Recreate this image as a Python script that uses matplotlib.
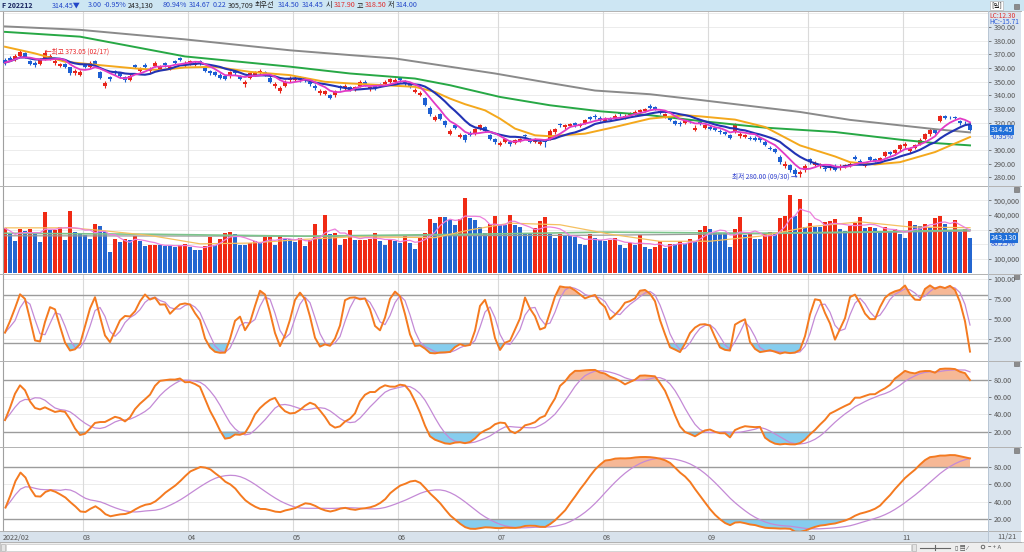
import numpy as np
import pandas as pd
import matplotlib
matplotlib.use("Agg")
import matplotlib.pyplot as plt
import matplotlib.transforms as mtrans
from matplotlib.patches import Rectangle, Circle
from matplotlib.lines import Line2D

plt.rcParams['font.family'] = ['Noto Sans CJK KR', 'DejaVu Sans']

# ---- daily candles (KOSPI200 futures F 202212) ----
opens = [366, 367.5, 366.5, 369, 371, 365, 364, 363, 367, 367,
         363.5, 361.5, 363, 360.5, 356, 355, 363, 361, 365, 357,
         347, 353.5, 357.5, 356, 353.5, 351.5, 362, 358, 362.5, 357.5,
         361.5, 359.5, 363.5, 359.5, 365, 367, 362, 363, 362.5, 365,
         360, 357.5, 357, 355, 354, 354, 357.5, 354, 348, 353,
         355, 356.5, 357, 353, 346.5, 343, 347, 351, 351.5, 353,
         352.5, 350, 347, 341.5, 341, 340, 340, 346.5, 345, 346,
         344, 347, 350, 344.5, 346.5, 348, 348, 350, 349.5, 352.5,
         350, 348, 342.5, 340.5, 338, 331, 322, 326, 321, 312,
         318, 309.5, 311, 312.5, 312, 315.5, 316.5, 311, 308, 303.5,
         306, 306, 305, 306.5, 311, 308, 306, 304.5, 307, 308,
         313, 319, 316.5, 317.5, 319.5, 317.5, 320, 324, 325, 323.5,
         321.5, 323, 323.5, 327, 323.5, 325.5, 326.5, 327.5, 328.5, 332.5,
         331.5, 328.5, 324.5, 324, 321, 320, 320, 322, 314.5, 320.5,
         316, 317, 316, 313.6, 313, 311, 313.5, 310, 309.5, 308.6,
         309, 308.5, 306, 301.6, 300.5, 295, 288, 289, 285.5, 282,
         285, 293, 289, 288, 286.6, 286.5, 288.5, 286.5, 287.5, 288.5,
         295, 291.6, 288.5, 294.5, 293, 292, 295.5, 298.5, 297.5, 300.5,
         302.5, 299, 301.5, 304.5, 308, 311.5, 314.5, 321, 325, 324.4,
         324.2, 321, 320, 317.9]
highs = [367, 368.5, 370, 373, 372, 366, 365, 367, 373.05, 370.5,
         366.5, 364, 364, 361, 359, 358.5, 364, 365.5, 366, 358,
         350.5, 354.5, 358.5, 357, 354.5, 355.5, 363, 361, 363.5, 360.5,
         365, 362.5, 364.5, 362.5, 366, 368, 365, 366, 365, 366,
         361, 358.5, 358, 356, 355, 358, 358.5, 355, 351.5, 357,
         358, 359.5, 358, 354, 349.5, 346.5, 351, 354.5, 354, 354,
         353.5, 351, 348, 344.5, 344, 341, 344, 347.5, 348, 347,
         347, 351, 351, 347, 347.5, 349, 351, 353, 352.5, 353.5,
         351, 349, 345.5, 343.5, 339, 332, 325.5, 327, 322, 315.5,
         319, 312.5, 312, 313.5, 316, 319, 317.5, 312, 309, 306.5,
         309, 307, 308, 309, 312, 309, 309, 307, 308, 315,
         316, 320, 319, 320, 320.5, 320, 323, 325, 326, 324.5,
         324, 324, 326, 328, 326, 328, 329, 330, 331, 333.5,
         332.5, 329.5, 327, 325, 322, 321, 323, 323, 318, 321.5,
         319, 318, 317, 315, 314, 312, 320, 313, 312, 310,
         310, 309.5, 307, 303, 301.5, 296, 292, 290, 286.5, 285,
         289.5, 294, 291.5, 290.5, 288, 289, 289.5, 289.5, 290, 291,
         296, 293, 291, 295.5, 294, 295, 299.5, 299.5, 300.5, 304,
         305.5, 302, 304.5, 308.5, 312.5, 316, 315.5, 325.5, 325.8, 325,
         325, 322, 321, 318.5]
lows = [362.5, 365, 365.5, 368, 367, 362, 360.5, 362, 366, 366,
        362.5, 360.5, 360, 355, 355, 354, 360, 360, 362, 352,
        345, 350.5, 355, 353, 350, 350.5, 360, 357, 360, 356.5,
        360.5, 358.5, 361, 358.5, 363, 365, 361, 362, 361.5, 362,
        357, 355, 354, 352, 351, 353, 355, 351, 346, 352,
        354, 355.5, 354, 349, 345.5, 341.5, 346, 350, 350.5, 350,
        350, 347, 344, 340, 340, 337, 339, 344, 344, 343,
        343, 346, 347, 343.5, 344, 346, 347, 349, 348.5, 350,
        347, 345, 341.5, 339.5, 332, 325, 321, 322, 317, 311,
        315, 308.5, 306, 310, 311, 314.5, 313, 307, 304.5, 302.5,
        305, 303, 304, 305.5, 309, 305, 305, 303.5, 302, 307,
        312, 317, 315.5, 316.5, 317, 316.5, 319, 322, 323, 321,
        320.5, 321, 322.5, 325, 322.5, 324.5, 325.5, 326.5, 327.5, 330,
        329, 326, 323.5, 321, 318, 317.5, 319, 320, 313.5, 318,
        315, 314.5, 313.5, 312, 311, 308, 312.5, 309, 308.5, 307,
        306.5, 306, 302.5, 300, 297.5, 290, 287, 284, 281, 280.0,
        284, 290, 288, 287, 284.5, 285.5, 284.5, 285.5, 286.5, 287.5,
        292.5, 290, 287.5, 292, 291, 291, 294.5, 296, 296.5, 299.5,
        301.5, 298, 300.5, 303.5, 307, 310.5, 312, 320.5, 322.5, 323,
        322.5, 318.5, 318.5, 314.0]
closes = [364, 366, 369, 372, 368, 363, 362, 366, 371, 369,
          365, 363, 361, 356, 358, 357, 361, 364, 363, 353,
          349, 352, 356, 354, 351, 354, 361, 360, 361, 359,
          364, 361, 362, 361, 364, 366, 364, 365, 364, 363,
          358, 356, 355, 353, 352, 357, 356, 352, 350, 356,
          357, 358, 355, 350, 348, 345, 350, 353, 353, 351,
          351, 348, 345, 343, 343, 338, 343, 345, 347, 344,
          346, 350, 348, 346, 345, 347, 350, 352, 351, 351,
          348, 346, 344, 342, 333, 326, 324, 323, 318, 314,
          316, 311, 307, 311, 315, 318, 314, 308, 306, 305,
          308, 304, 307, 308, 310, 306, 308, 306, 306, 314,
          315, 318, 318, 319, 318, 319, 322, 323, 324, 322,
          323, 322, 325, 326, 325, 327, 328, 329, 330, 331,
          330, 327, 326, 322, 319, 319, 322, 321, 316, 319,
          318, 315.5, 314.5, 313, 312, 309, 319, 312, 311, 308,
          307.5, 307, 303.5, 301, 298.5, 291, 289.5, 285, 282.5, 284,
          288.5, 291, 290.5, 289.5, 286, 288, 285.5, 288.5, 289, 290,
          293.5, 291, 290, 292.8, 292, 294, 298.4, 297, 299.6, 303.3,
          304.5, 301, 303.5, 307.5, 311.4, 314.8, 312.6, 325, 323.5, 324,
          323.5, 319.5, 319.5, 314.45]
# volume in thousand contracts
volumes_k = [308, 274, 223, 303, 290, 303, 278, 217, 422, 296,
             296, 319, 228, 429, 285, 278, 262, 233, 335, 326,
             285, 148, 239, 217, 233, 228, 255, 221, 187, 194,
             198, 196, 189, 187, 180, 198, 205, 178, 160, 158,
             189, 251, 198, 239, 274, 285, 269, 198, 196, 212,
             221, 212, 251, 251, 198, 258, 239, 235, 217, 244,
             189, 226, 335, 239, 399, 269, 278, 198, 239, 296,
             228, 230, 232, 239, 274, 221, 198, 233, 223, 210,
             258, 210, 166, 246, 280, 372, 347, 388, 383, 365,
             331, 369, 513, 376, 365, 319, 274, 337, 392, 331,
             329, 399, 331, 319, 269, 267, 312, 358, 383, 269,
             244, 269, 258, 255, 251, 205, 198, 267, 244, 228,
             221, 228, 246, 198, 176, 210, 194, 262, 182, 171,
             178, 221, 176, 205, 203, 221, 205, 235, 221, 296,
             326, 303, 280, 278, 276, 182, 301, 383, 262, 269,
             239, 237, 267, 285, 274, 376, 394, 536, 392, 506,
             315, 347, 319, 317, 349, 360, 369, 301, 292, 326,
             347, 383, 308, 315, 313, 285, 315, 285, 303, 267,
             246, 358, 331, 324, 337, 315, 376, 394, 337, 285,
             365, 285, 301, 243.13]

# long moving averages (they need history before the window)
ma20_idx = [0, 6, 12, 19, 26, 31, 36, 42, 49, 57, 64, 69, 76, 82, 86, 89, 92, 96, 99,
            102, 106, 109, 116, 122, 129, 136, 139, 146, 152, 159, 166, 169, 174, 179, 186, 193]
ma20_val = [375.6, 370.7, 364.6, 362.1, 359.7, 358.5, 360.4, 360.9, 357.2, 354.8, 349.9,
            348.7, 347.4, 346.2, 342.5, 337.6, 333.5, 329.0, 322.9, 315.6, 310.7, 310.0,
            311.9, 316.8, 322.9, 325.4, 324.6, 322.2, 316.8, 303.3, 295.2, 291.0, 289.3,
            291.0, 298.4, 309.4]
ma60_idx = [0, 15, 36, 57, 69, 82, 89, 99, 109, 119, 129, 139, 152, 166, 179, 186, 193]
ma60_val = [386.5, 383.0, 368.5, 361.0, 356.0, 352.3, 347.4, 338.8, 332.7, 328.3, 325.4,
            321.2, 316.3, 313.1, 307.5, 305.0, 303.3]
ma120_idx = [0, 15, 36, 57, 69, 78, 98, 109, 118, 129, 139, 159, 169, 179, 186, 193]
ma120_val = [390.5, 388.0, 381.0, 373.0, 369.5, 367.0, 356.0, 349.0, 343.5, 340.8, 336.6,
             327.8, 322.0, 318.0, 315.2, 312.8]
vma20_idx = [0, 13, 19, 29, 39, 49, 59, 69, 79, 86, 93, 101, 111, 121, 131, 141, 151, 161, 171, 181, 193]
vma20_val = [312, 312, 295, 260, 203, 208, 232, 250, 248, 245, 298, 344, 333, 269, 220, 221,
             255, 320, 353, 318, 313]
vma60_idx = [0, 30, 60, 101, 120, 150, 175, 193]
vma60_val = [275, 268, 255, 272, 283, 275, 285, 298]
vma120_idx = [0, 60, 120, 160, 193]
vma120_val = [258, 255, 262, 275, 290]

month_start = [0, 16, 37, 58, 79, 99, 120, 141, 161, 180]
month_labels = ['2022/02', '03', '04', '05', '06', '07', '08', '09', '10', '11']

RED, BLUE = '#e8261c', '#1d5fd3'
C_MA5, C_MA10, C_MA20, C_MA60, C_MA120 = '#e23ac6', '#2233b4', '#f4a81c', '#27a845', '#8a8a8a'
C_K, C_D = '#f47a20', '#c48ad6'
FS = 4.8     # small HTS font
TFS = 5.2    # axis labels

o = np.array(opens); h = np.array(highs); l = np.array(lows); c = np.array(closes)
v = np.array(volumes_k) * 1000
N = len(c)
x = np.arange(N)
cs, hs, ls = pd.Series(c), pd.Series(h), pd.Series(l)

W, H = 1024, 552
fig = plt.figure(figsize=(W / 100, H / 100), dpi=100)
fig.patch.set_facecolor('white')
rend = fig.canvas.get_renderer()

def pax(x0, y0, x1, y1):
    return fig.add_axes([x0 / W, 1 - y1 / H, (x1 - x0) / W, (y1 - y0) / H])

# background layer in pixel units
bg = fig.add_axes([0, 0, 1, 1])
bg.set_xlim(0, W); bg.set_ylim(H, 0); bg.axis('off')
bg.add_patch(Rectangle((0, 0), W, 10.5, fc='#cde6f3', ec='none'))
bg.add_patch(Rectangle((988, 10.5), 33, 531.5, fc='#dae4ee', ec='none'))
bg.add_patch(Rectangle((0, 531), 988, 11, fc='#d8e2ec', ec='none'))
bg.add_patch(Rectangle((0, 542), W, 10, fc='#eeeeee', ec='#bdbdbd', lw=0.6))
bg.add_patch(Rectangle((6, 544), 905, 6.5, fc='white', ec='#c8c8c8', lw=0.5))
bg.add_patch(Rectangle((1, 544), 4, 6.5, fc='#e4e4e4', ec='#a8a8a8', lw=0.4))
bg.add_patch(Rectangle((912, 544), 4, 6.5, fc='#e4e4e4', ec='#a8a8a8', lw=0.4))
bg.plot([920, 950], [547.5, 547.5], color='#666666', lw=0.8)
bg.plot([935, 935], [545, 550], color='#666666', lw=0.8)
bg.text(955, 547.5, '▯ ▤ ⁄', fontsize=4.3, color='#555555', va='center', ha='left')
bg.add_patch(Circle((983, 547), 1.8, fc='none', ec='#555555', lw=0.6))
bg.text(988, 547.5, '− + A', fontsize=4.3, color='#555555', va='center', ha='left')
for yy in (6, 189, 276.5, 363.5, 450):
    bg.add_patch(Rectangle((1013.5, yy - 2.5), 5, 5, fc='#8c8c8c', ec='#666666', lw=0.4))

def chain(y, items, fs=FS, gap=1.5):
    # place texts left to right at their reference x, never overlapping
    prev = -1e9
    for px, txt, col, box, bold in items:
        px = max(px, prev + gap)
        kw = dict(bbox=dict(fc='#e0e0e0', ec='none', pad=0.4)) if box else {}
        t = bg.text(px, y, txt, color=col, fontsize=fs, va='center', ha='left', zorder=5,
                    fontweight='bold' if bold else 'normal', **kw)
        prev = t.get_window_extent(renderer=rend).x1 + (2 if box else 0)

chain(5.2, [(2, 'F 202212', '#1a2660', False, True), (52, '314.45▼', '#2246c8', False, False),
            (88, '3.00', '#2246c8', False, False), (100, '-0.95%', '#2246c8', False, False),
            (125, '243,130', '#222222', False, False), (163, '80.94%', '#2246c8', False, False),
            (189, '314.67', '#2246c8', False, False), (208, '0.22', '#2246c8', False, False),
            (225, '305,709', '#222222', False, False), (243, '최우선', '#222222', False, False),
            (278, '314.50', '#2246c8', False, False), (302, '314.45', '#2246c8', False, False),
            (325, '시', '#222222', False, False), (330, '317.90', '#e02828', False, False),
            (346, '고', '#222222', False, False), (350, '318.50', '#e02828', False, False),
            (372, '저', '#222222', False, False), (377, '314.00', '#2246c8', False, False)],
      fs=5.1)
bg.text(991, 5.2, '[일]', fontsize=FS, va='center', ha='left', color='#222',
        bbox=dict(fc='white', ec='#aaaaaa', lw=0.4, pad=0.5))
bg.text(989, 15.5, 'LC:12.30', fontsize=FS, color='#e03030', va='center')
bg.text(989, 21.5, 'HC:-15.71', fontsize=FS, color='#2a5ad8', va='center')

chain(15.5, [(3, '■', '#888888', False, False), (10, '연결선물지수', '#333333', True, False),
             (49, '■', '#888888', False, False), (54, '종가 단순', C_MA5, False, False),
             (82, '5', C_MA5, False, False), (88, '10', C_MA10, False, False),
             (98.5, '20', C_MA20, False, False), (108.5, '60', C_MA60, False, False),
             (119, '120', '#999999', False, False)])
chain(191, [(3, '■', '#888888', False, False), (10, '거래량', '#3aa6b0', False, False),
            (33, '단순 5', '#e050c8', False, False), (53, '20', '#f0b040', False, False),
            (62.5, '60', '#40b060', False, False), (72, '120', '#999999', False, False)])
chain(197.5, [(5, '243,130계약(80.25%)', '#444444', False, False)])
chain(278, [(3, '■', '#888888', False, False), (11, 'Slow %K 5,3', C_K, False, False),
            (49, 'Slow %D 3', '#b070c8', False, False)])
chain(365.5, [(3, '■', '#888888', False, False), (11, 'Slow %K 10,6', C_K, False, False),
              (53, 'Slow %D 6', '#b070c8', False, False)])
chain(452, [(3, '■', '#888888', False, False), (11, 'Slow %K 20,12', C_K, False, False),
            (56, 'Slow %D 12', '#b070c8', False, False)])

def style(ax, ylim, ticks, fmt, grid_vals):
    ax.set_xlim(-0.4, 196.6)
    ax.set_ylim(*ylim)
    for s in ax.spines.values():
        s.set_visible(False)
    ax.spines['left'].set_visible(True)
    ax.spines['left'].set_color('#a0a0a0')
    ax.yaxis.tick_right()
    ax.set_yticks(ticks)
    ax.set_yticklabels([fmt(t) for t in ticks])
    ax.tick_params(axis='y', labelsize=TFS, colors='#555555', length=2, pad=2, width=0.5)
    ax.tick_params(axis='x', length=0, labelbottom=False)
    for g in grid_vals:
        ax.axhline(g, color='#ececec', lw=0.7, zorder=0)
    for m in month_start[1:]:
        ax.axvline(m - 0.5, color='#dadada', lw=0.8, zorder=0)

side = lambda ax: mtrans.blended_transform_factory(ax.transAxes, ax.transData)

# ---- price panel ----
axp = pax(3, 11, 988, 185.5)
style(axp, (273.9, 401.8), [280, 290, 300, 320, 330, 340, 350, 360, 370, 380, 390],
      lambda t: f'{t:.2f}', range(280, 401, 10))
up = c >= o
ccol = np.where(up, RED, BLUE)
axp.vlines(x, l, h, colors=ccol, lw=0.8, zorder=2)
axp.bar(x, np.maximum(np.abs(c - o), 0.35), bottom=np.minimum(o, c), width=0.72,
        color=ccol, lw=0, zorder=3)
axp.plot(ma120_idx, ma120_val, color=C_MA120, lw=1.4, zorder=4)
axp.plot(ma60_idx, ma60_val, color=C_MA60, lw=1.4, zorder=4)
axp.plot(ma20_idx, ma20_val, color=C_MA20, lw=1.4, zorder=4)
axp.plot(x, cs.rolling(10, min_periods=1).mean(), color=C_MA10, lw=1.5, zorder=5)
axp.plot(x, cs.rolling(5, min_periods=1).mean(), color=C_MA5, lw=1.3, zorder=6)
imax, imin = int(np.argmax(h)), int(np.argmin(l))
axp.text(imax, h[imax] - 1.1, '←최고 373.05 (02/17)', color='#e8262a', fontsize=FS,
         va='center', ha='left', zorder=7)
axp.text(imin - 0.4, l[imin] + 0.5, '최저 280.00 (09/30) →', color='#3040d0', fontsize=FS,
         va='center', ha='right', zorder=7)
axp.text(1.003, c[-1], f'{c[-1]:.2f}', transform=side(axp), color='white', fontsize=TFS,
         va='center', ha='left', bbox=dict(boxstyle='square,pad=0.15', fc='#1f6fd8', ec='none'))
axp.text(1.003, 309.6, '-0.95%', transform=side(axp), color='#2a5ad8', fontsize=TFS,
         va='center', ha='left')

# ---- volume panel ----
axv = pax(3, 186.5, 988, 273)
style(axv, (4000, 594000), [100000, 300000, 400000, 500000], lambda t: f'{t:,.0f}',
      [100000, 200000, 300000, 400000, 500000])
vup = np.r_[True, v[1:] >= v[:-1]]
axv.bar(x, v, width=0.74, color=np.where(vup, '#f02a14', '#2466d0'), lw=0, zorder=2)
axv.plot(vma120_idx, np.array(vma120_val) * 1000, color='#9a9a9a', lw=0.9, zorder=3)
axv.plot(vma60_idx, np.array(vma60_val) * 1000, color='#7cc48c', lw=1.2, zorder=3)
axv.plot(vma20_idx, np.array(vma20_val) * 1000, color='#f5c060', lw=0.9, zorder=3)
axv.plot(x, pd.Series(v).rolling(5, min_periods=1).mean(), color='#ec80dc', lw=0.9, zorder=4)
axv.text(1.003, v[-1], f'{v[-1]:,.0f}', transform=side(axv), color='white', fontsize=TFS,
         va='center', ha='left', bbox=dict(boxstyle='square,pad=0.15', fc='#1f6fd8', ec='none'))
axv.text(1.003, 200000, '80.25%', transform=side(axv), color='#2a5ad8', fontsize=TFS,
         va='center', ha='left')

# ---- stochastic panels ----
def slow_stoch(n, m1, m2):
    hh = hs.rolling(n, min_periods=1).max()
    ll = ls.rolling(n, min_periods=1).min()
    k = (cs - ll).rolling(m1, min_periods=1).sum() / (hh - ll).rolling(m1, min_periods=1).sum() * 100
    d = k.rolling(m2, min_periods=1).mean()
    return k.values, d.values

def stoch_panel(y0, y1, ylim, ticks, params):
    ax = pax(3, y0, 988, y1)
    style(ax, ylim, ticks, lambda t: f'{t:.2f}', ticks)
    k, d = slow_stoch(*params)
    ax.fill_between(x, k, 80, where=k >= 80, interpolate=True, color='#f6b896', lw=0, zorder=1)
    ax.fill_between(x, k, 20, where=k <= 20, interpolate=True, color='#86cdee', lw=0, zorder=1)
    ax.axhline(80, color='#9c9c9c', lw=1.0, zorder=2)
    ax.axhline(20, color='#9c9c9c', lw=1.0, zorder=2)
    ax.plot(x, d, color=C_D, lw=0.9, zorder=3)
    ax.plot(x, k, color=C_K, lw=1.4, zorder=4)
    return ax

ax1 = stoch_panel(274, 360, (-0.9, 106.6), [25, 50, 75, 100], (5, 3, 3))
ax2 = stoch_panel(361, 446.5, (2.7, 101.9), [20, 40, 60, 80], (10, 6, 6))
ax3 = stoch_panel(447.5, 531, (6.3, 102.6), [20, 40, 60, 80], (20, 12, 12))
ax3.set_xticks(np.array(month_start) - 0.5)
ax3.set_xticklabels(month_labels)
ax3.tick_params(axis='x', labelbottom=True, labelsize=TFS, colors='#555555', pad=2.5)
for lbl in ax3.get_xticklabels():
    lbl.set_ha('left')
bg.text(997, 536.5, '11/21', fontsize=TFS, color='#555555', va='center', ha='left')

# panel separators
for yy in (10.5, 186, 273.5, 360.5, 447, 531, 542):
    fig.add_artist(Line2D([0, 1021 / W], [1 - yy / H] * 2, color='#b2b2b2', lw=0.7))
fig.add_artist(Line2D([988 / W] * 2, [1 - 10.5 / H, 1 - 542 / H], color='#b8c6d4', lw=0.7))

fig.savefig('out.png', dpi=100)
